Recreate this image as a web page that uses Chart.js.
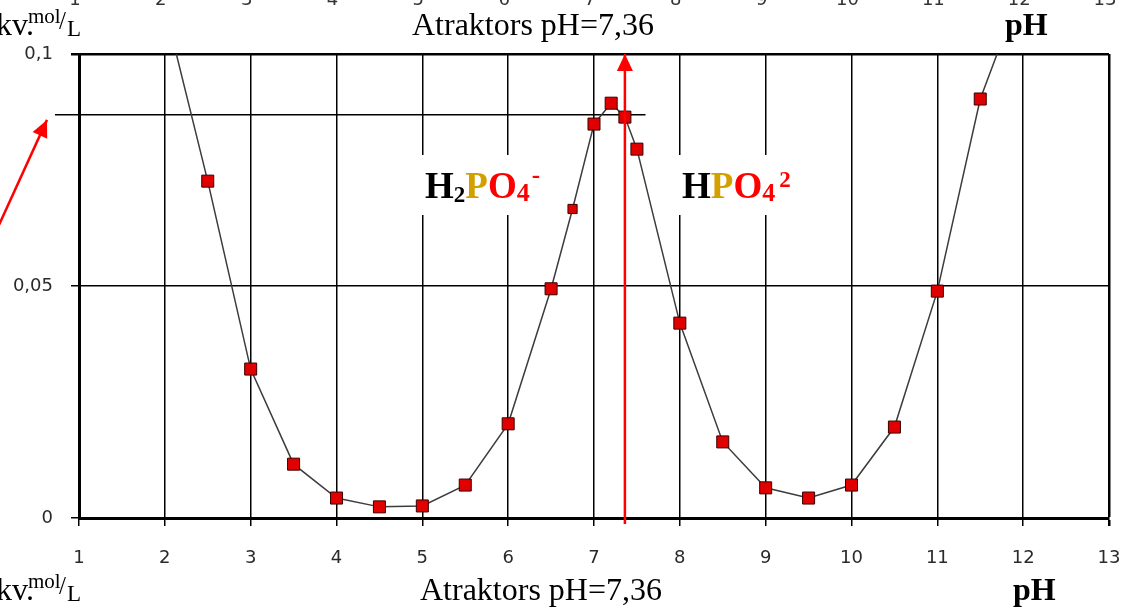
<!DOCTYPE html>
<html>
<head>
<meta charset="utf-8">
<script src="https://cdn.jsdelivr.net/npm/chart.js@4.4.1/dist/chart.umd.min.js"></script>
<style>
  html, body { margin: 0; padding: 0; background: #fff; overflow: hidden; }
  #wrap { width: 1136px; height: 607px; position: relative; }
</style>
</head>
<body>
<div id="wrap"><canvas id="chart"></canvas></div>
<script>
// values (pH vs concentration, mol/L)
const pH = [2, 2.5, 3, 3.5, 4, 4.5, 5, 5.5, 6, 6.5, 6.75, 7, 7.2, 7.36, 7.5, 8, 8.5, 9, 9.5, 10, 10.5, 11, 11.5, 12];
const conc = [0.110, 0.0726, 0.0321, 0.0116, 0.0043, 0.0024, 0.0026, 0.0071, 0.0203, 0.0494, 0.0666, 0.0849, 0.0894, 0.0864, 0.0795, 0.0420, 0.0164, 0.0065, 0.0043, 0.0071, 0.0196, 0.0489, 0.0903, 0.115];
const xTicks = [1, 2, 3, 4, 5, 6, 7, 8, 9, 10, 11, 12, 13];
const attractor = 7.36;
const refLevel = 0.0869;
const refSpan = [0.72, 7.6];
const attractorSpan = [-0.0013, 0.1];
const leftArrowX = [0.02, 0.627];
const leftArrowY = [0.0612, 0.0858];

const fmt = v => String(+v.toFixed(2)).replace('.', ',');
const RED = '#ff0000';
const GOLD = '#d4a000';
const TICK_FONT = { family: 'DejaVu Sans', size: 18 };

function arrowHead(ctx, x0, y0, x1, y1, len, half) {
  const a = Math.atan2(y1 - y0, x1 - x0);
  ctx.save();
  ctx.translate(x1, y1);
  ctx.rotate(a);
  ctx.beginPath();
  ctx.moveTo(0, 0);
  ctx.lineTo(-len, -half);
  ctx.lineTo(-len, half);
  ctx.closePath();
  ctx.fillStyle = RED;
  ctx.fill();
  ctx.restore();
}

// draw a formula as coloured runs of text
function richText(ctx, x, y, parts) {
  let cx = x;
  parts.forEach(p => {
    ctx.font = 'bold ' + p.size + 'px "Liberation Serif"';
    ctx.fillStyle = p.color;
    ctx.textBaseline = 'alphabetic';
    ctx.textAlign = 'left';
    ctx.fillText(p.t, cx, y + (p.dy || 0));
    cx += ctx.measureText(p.t).width + (p.gap || 0);
  });
}

function unitLabel(ctx, x, base) {
  ctx.fillStyle = '#000';
  ctx.textAlign = 'left';
  ctx.textBaseline = 'alphabetic';
  ctx.font = '32px "Liberation Serif"';
  ctx.fillText('kv.', x, base);
  ctx.font = '21px "Liberation Serif"';
  ctx.fillText('mol', x + 32, base - 12);
  ctx.font = '25px "Liberation Serif"';
  ctx.fillText('/', x + 63, base - 6);
  ctx.font = '23px "Liberation Serif"';
  ctx.fillText('L', x + 71, base + 1);
}

const decor = {
  id: 'decor',
  beforeDatasetsDraw(chart) {
    const { ctx } = chart;
    ctx.save();
    ctx.fillStyle = '#fff';
    ctx.fillRect(420, 155, 125, 60);
    ctx.fillRect(676, 155, 116, 60);
    richText(ctx, 425, 198, [
      { t: 'H', size: 37, color: '#000' },
      { t: '2', size: 23, color: '#000', dy: 4 },
      { t: 'P', size: 37, color: GOLD },
      { t: 'O', size: 37, color: RED },
      { t: '4', size: 26, color: RED, dy: 3, gap: 2 },
      { t: '-', size: 25, color: RED, dy: -15 }
    ]);
    richText(ctx, 682, 198, [
      { t: 'H', size: 37, color: '#000' },
      { t: 'P', size: 37, color: GOLD },
      { t: 'O', size: 37, color: RED },
      { t: '4', size: 26, color: RED, dy: 3, gap: 4 },
      { t: '2', size: 23, color: RED, dy: -11 }
    ]);
    ctx.restore();
  },
  afterDatasetsDraw(chart) {
    const { ctx } = chart;
    [0, 3].forEach(i => {
      const pts = chart.getDatasetMeta(i).data;
      const a = pts[pts.length - 2], b = pts[pts.length - 1];
      arrowHead(ctx, a.x, a.y, b.x, b.y, 17, 8);
    });
  },
  afterDraw(chart) {
    const { ctx, scales } = chart;
    ctx.save();
    // clipped tick row at the very top
    ctx.fillStyle = '#333';
    ctx.font = '18px "DejaVu Sans"';
    ctx.textAlign = 'center';
    ctx.textBaseline = 'alphabetic';
    xTicks.forEach(v => ctx.fillText(String(v), scales.x.getPixelForValue(v) - 4, 5));

    const title = 'Atraktors pH=' + fmt(attractor);
    ctx.fillStyle = '#000';
    ctx.textAlign = 'left';
    ctx.font = '32px "Liberation Serif"';
    ctx.fillText(title, 412, 35);
    ctx.fillText(title, 420, 600);
    ctx.font = 'bold 32px "Liberation Serif"';
    ctx.fillText('pH', 1005, 35);
    ctx.fillText('pH', 1013, 600);
    unitLabel(ctx, -4, 35);
    unitLabel(ctx, -4, 600);
    ctx.restore();
  }
};

new Chart(document.getElementById('chart'), {
  type: 'line',
  data: {
    datasets: [
      {
        data: attractorSpan.map(y => ({ x: attractor, y })),
        borderColor: RED, borderWidth: 2.5, pointRadius: 0, clip: false, order: 0
      },
      {
        data: pH.map((x, i) => ({ x, y: conc[i] })),
        borderColor: '#3c3c3c', borderWidth: 1.5,
        pointStyle: 'rect',
        pointRadius: c => (c.raw && c.raw.x === 6.75 ? 6.5 : 8.5),
        pointBackgroundColor: '#e00000', pointBorderColor: '#3a0000', pointBorderWidth: 1,
        order: 1
      },
      {
        data: refSpan.map(x => ({ x, y: refLevel })),
        borderColor: '#000', borderWidth: 1.5, pointRadius: 0, clip: false, order: 2
      },
      {
        data: leftArrowX.map((x, i) => ({ x, y: leftArrowY[i] })),
        borderColor: RED, borderWidth: 2.5, pointRadius: 0, clip: false, order: 0
      }
    ]
  },
  options: {
    responsive: true,
    maintainAspectRatio: false,
    animation: false,
    parsing: false,
    layout: { padding: { top: 54, right: 27, left: 0, bottom: 0 } },
    plugins: { legend: { display: false }, tooltip: { enabled: false } },
    scales: {
      x: {
        type: 'linear', min: 1, max: 13,
        afterFit: s => { s.height = 89; s.paddingLeft = 0; s.paddingRight = 0; },
        ticks: { stepSize: 1, color: '#2a2a2a', font: TICK_FONT, padding: 22, maxRotation: 0 },
        grid: { color: '#000', lineWidth: c => (c.tick && c.tick.value === 13 ? 2.5 : 1.5), tickLength: 8 },
        border: { color: '#000', width: 3 }
      },
      y: {
        min: 0, max: 0.1,
        afterFit: s => { s.width = 79; s.paddingTop = 0; s.paddingBottom = 0; },
        ticks: { stepSize: 0.05, color: '#2a2a2a', font: TICK_FONT, padding: 18, callback: v => fmt(v) },
        grid: { color: '#000', lineWidth: c => (c.tick && c.tick.value === 0.1 ? 2.5 : 1.5), tickLength: 8 },
        border: { color: '#000', width: 3 }
      }
    }
  },
  plugins: [decor]
});
</script>
</body>
</html>
